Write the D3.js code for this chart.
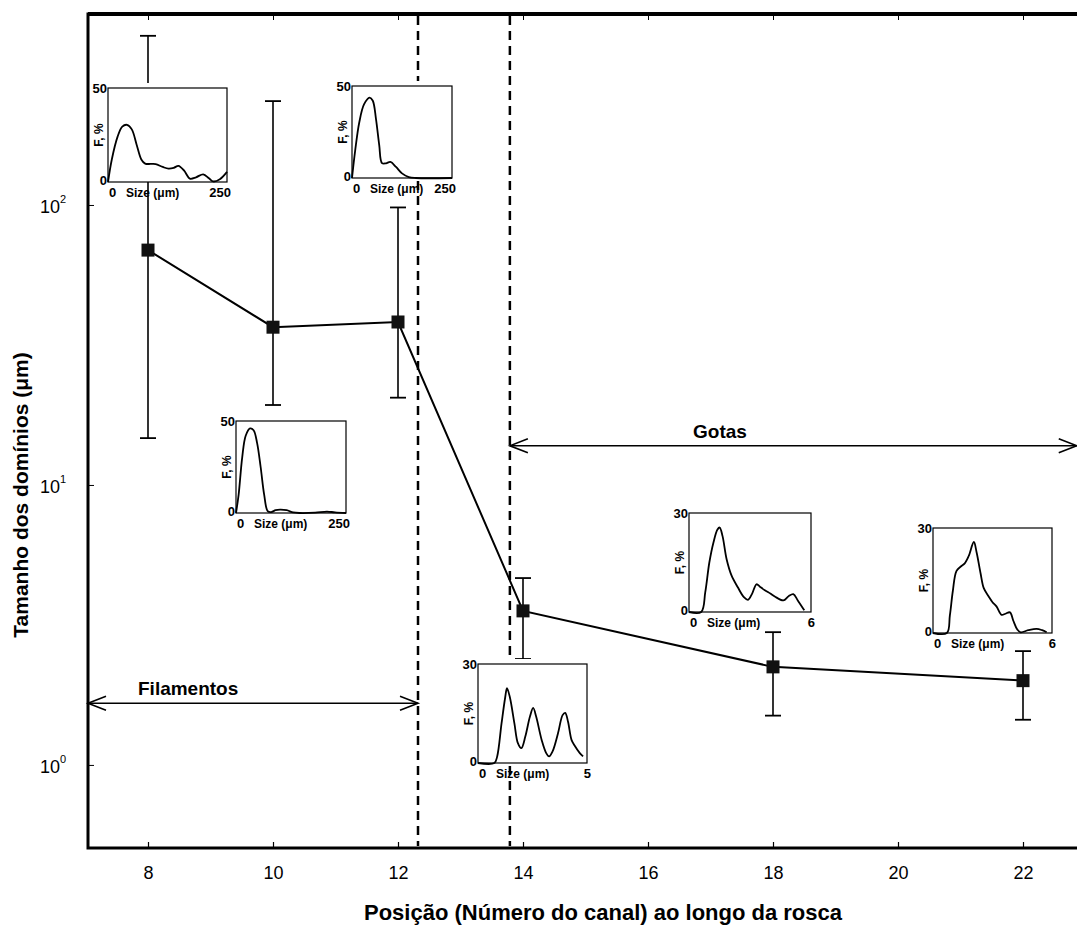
<!DOCTYPE html>
<html>
<head>
<meta charset="utf-8">
<script src="https://cdn.jsdelivr.net/npm/d3@7"></script>
<style>
  body { margin: 0; background: #fff; }
  text { font-family: "Liberation Sans", Arial, sans-serif; fill: #000; }
</style>
</head>
<body>
<div id="chart"></div>
<script>
// ---- data ----
var xTicks = [8, 10, 12, 14, 16, 18, 20, 22];
var yTicks = [1, 10, 100];
var positions = [8, 10, 12, 14, 18, 22];          // channel number
var sizes = [69, 36.6, 38.2, 3.55, 2.24, 2.0];    // domain size, um
var upper = [402, 235, 98, 4.65, 2.98, 2.55];
var lower = [14.7, 19.3, 20.5, 2.39, 1.50, 1.45];
var boundaries = [12.32, 13.79];                  // dashed lines
var filamentos = {from: 7.04, to: 12.32, at: 1.66};
var gotas = {from: 13.79, to: 22.86, at: 13.8};

// size distributions in the insets: [size, F %]
var dist8 = [[0,0],[8,12],[20,24],[30,29.5],[40,30.4],[50,28],[60,20],[70,12],[78,9.8],[90,9.6],[100,9.5],[115,8],[127,7.1],[138,7.5],[148,8.6],[160,6],[172,1.8],[185,2.5],[200,4.1],[212,2],[221,0.3],[235,1.5],[250,5.4]];
var dist10 = [[0,0],[6,10],[14,30],[22,42],[32,46],[40,45],[48,38],[56,25],[64,10],[72,1],[80,0.5],[90,1.5],[100,1.8],[115,1.5],[130,0.3],[145,0],[180,0.2],[207,0.8],[225,0.3],[250,0]];
var dist12 = [[0,0],[8,15],[18,30],[30,40],[44,43.7],[52,42],[60,32],[68,18],[75,8.1],[85,8],[96,8.7],[110,6],[125,2.5],[142,0.5],[160,0],[250,0]];
var dist14 = [[0,0],[0.75,0],[0.88,2],[1.08,12],[1.25,20],[1.33,22.7],[1.46,20],[1.67,12],[1.83,6],[1.99,4.5],[2.17,8],[2.38,14],[2.53,16.7],[2.67,14],[2.92,7],[3.13,3],[3.26,2],[3.42,3.5],[3.67,9],[3.88,14.5],[4.0,15.2],[4.13,12.5],[4.29,7],[4.43,5.3],[4.67,3],[4.82,2]];
var dist18 = [[0,0],[0.6,0],[0.8,6],[1.0,15],[1.2,21],[1.4,25],[1.51,25.6],[1.65,23],[1.85,16],[2.09,11.1],[2.4,7.5],[2.7,4.5],[2.9,3.7],[3.1,5.5],[3.32,8.4],[3.5,7.6],[3.73,6.6],[4.0,5.6],[4.22,4.7],[4.64,3.5],[4.9,4.8],[5.13,5.4],[5.35,3.5],[5.67,0.5]];
var dist22 = [[0,0],[0.7,0],[0.85,5],[1.0,12],[1.18,17.7],[1.4,19],[1.6,19.9],[1.8,22],[2.06,26],[2.2,23],[2.4,17],[2.56,12.8],[2.8,10.5],[3.0,8.8],[3.2,7.6],[3.46,5.2],[3.65,5.5],[3.88,5.9],[4.05,3.5],[4.25,1],[4.42,0.2],[4.8,0.8],[5.22,1.2],[5.5,0.8],[5.73,0.2]];

var insets = [
  {box: [108, 88, 227, 182], xMax: 250, yMax: 50, data: dist8},
  {box: [352, 86, 452, 178], xMax: 250, yMax: 50, data: dist12},
  {box: [236, 421, 346, 513], xMax: 250, yMax: 50, data: dist10},
  {box: [478, 664, 587, 763], xMax: 5, yMax: 30, data: dist14},
  {box: [689, 513, 811, 612], xMax: 6, yMax: 30, data: dist18},
  {box: [933, 528, 1052, 633], xMax: 6, yMax: 30, data: dist22}
];

// ---- layout ----
var W = 1077, H = 927;
var svg = d3.select('#chart').append('svg').attr('width', W).attr('height', H);
svg.append('rect').attr('width', W).attr('height', H).attr('fill', '#fff');

var x = d3.scaleLinear().domain([7.04, 23]).range([88, 1085.5]);
var y = d3.scaleLog().domain([0.505, 481]).range([848, 14]);

var plot = svg.append('g');

// frame (right side falls outside the picture)
plot.append('rect').attr('x', 88).attr('y', 14).attr('width', 1100).attr('height', 834)
  .attr('fill', 'none').attr('stroke', '#000').attr('stroke-width', 3);
plot.append('line').attr('x1', 88).attr('x2', W).attr('y1', 14).attr('y2', 14)
  .attr('stroke', '#000').attr('stroke-width', 4);

// x ticks, inward on bottom and top
var xb = plot.append('g').attr('transform', 'translate(0,848)')
  .call(d3.axisBottom(x).tickValues(xTicks).tickSizeInner(-6).tickSizeOuter(0).tickPadding(18));
xb.select('.domain').remove();
xb.selectAll('.tick line').attr('stroke-width', 1.2);
xb.selectAll('.tick text').attr('font-size', 18).attr('font-family', '"Liberation Sans", Arial, sans-serif');
var xt = plot.append('g').attr('transform', 'translate(0,14)')
  .call(d3.axisTop(x).tickValues(xTicks).tickSizeInner(-6).tickSizeOuter(0).tickFormat(''));
xt.select('.domain').remove();

// y ticks with 10^n labels
var yl = plot.append('g').attr('transform', 'translate(88,0)')
  .call(d3.axisLeft(y).tickValues(yTicks).tickSizeInner(-6).tickSizeOuter(0).tickFormat(''));
yl.select('.domain').remove();
var ylab = plot.selectAll('.ylab').data(yTicks).enter().append('text')
  .attr('class', 'ylab').attr('x', 40).attr('y', function(d){ return y(d) + 8; })
  .attr('font-size', 18);
ylab.append('tspan').text('10');
ylab.append('tspan').attr('font-size', 11).attr('dy', -10).text(function(d){ return Math.round(Math.log10(d)); });

// dashed boundaries
plot.selectAll('.bound').data(boundaries).enter().append('line')
  .attr('x1', function(d){ return x(d); }).attr('x2', function(d){ return x(d); })
  .attr('y1', 16).attr('y2', 846)
  .attr('stroke', '#000').attr('stroke-width', 2.5).attr('stroke-dasharray', '9,6');

// regime arrows
function arrow(r, label, lx, anchor) {
  var g = plot.append('g');
  var x1 = x(r.from), x2 = x(r.to), yy = y(r.at);
  g.append('line').attr('x1', x1).attr('x2', x2).attr('y1', yy).attr('y2', yy)
    .attr('stroke', '#000').attr('stroke-width', 1.6);
  g.append('path').attr('d', 'M' + (x1 + 18) + ',' + (yy - 7) + 'L' + x1 + ',' + yy + 'L' + (x1 + 18) + ',' + (yy + 7))
    .attr('fill', 'none').attr('stroke', '#000').attr('stroke-width', 1.6);
  g.append('path').attr('d', 'M' + (x2 - 18) + ',' + (yy - 7) + 'L' + x2 + ',' + yy + 'L' + (x2 - 18) + ',' + (yy + 7))
    .attr('fill', 'none').attr('stroke', '#000').attr('stroke-width', 1.6);
  g.append('text').attr('x', lx).attr('y', yy - 8).attr('text-anchor', anchor)
    .attr('font-size', 19).attr('font-weight', 'bold').text(label);
}
arrow(filamentos, 'Filamentos', 138, 'start');
arrow(gotas, 'Gotas', 720, 'middle');

// error bars
var eb = plot.selectAll('.err').data(positions).enter().append('g');
eb.append('line').attr('x1', function(d){ return x(d); }).attr('x2', function(d){ return x(d); })
  .attr('y1', function(d, i){ return y(upper[i]); }).attr('y2', function(d, i){ return y(lower[i]); })
  .attr('stroke', '#000').attr('stroke-width', 1.6);
[upper, lower].forEach(function(arr){
  eb.append('line').attr('x1', function(d){ return x(d) - 8; }).attr('x2', function(d){ return x(d) + 8; })
    .attr('y1', function(d, i){ return y(arr[i]); }).attr('y2', function(d, i){ return y(arr[i]); })
    .attr('stroke', '#000').attr('stroke-width', 1.8);
});

// main line and square markers
var pts = positions.map(function(p, i){ return [p, sizes[i]]; });
plot.append('path').datum(pts)
  .attr('d', d3.line().x(function(d){ return x(d[0]); }).y(function(d){ return y(d[1]); }))
  .attr('fill', 'none').attr('stroke', '#000').attr('stroke-width', 2);
plot.selectAll('.mk').data(pts).enter().append('rect')
  .attr('x', function(d){ return x(d[0]) - 6.5; }).attr('y', function(d){ return y(d[1]) - 6.5; })
  .attr('width', 13).attr('height', 13).attr('fill', '#111');

// axis titles
svg.append('text').attr('x', 603).attr('y', 920).attr('text-anchor', 'middle')
  .attr('font-size', 22).attr('font-weight', 'bold').text('Posição (Número do canal) ao longo da rosca');
svg.append('text').attr('transform', 'translate(28,495) rotate(-90)').attr('text-anchor', 'middle')
  .attr('font-size', 21).attr('font-weight', 'bold').text('Tamanho dos domínios (μm)');

// insets with the size distributions
insets.forEach(function(ins){
  var b = ins.box;
  var g = svg.append('g');
  var ix = d3.scaleLinear().domain([0, ins.xMax]).range([b[0], b[2]]);
  var iy = d3.scaleLinear().domain([0, ins.yMax]).range([b[3], b[1]]);
  g.append('rect').attr('x', b[0]).attr('y', b[1] - 5).attr('width', b[2] - b[0]).attr('height', b[3] - b[1] + 5)
    .attr('fill', '#fff');
  g.append('rect').attr('x', b[0]).attr('y', b[1]).attr('width', b[2] - b[0]).attr('height', b[3] - b[1])
    .attr('fill', 'none').attr('stroke', '#000').attr('stroke-width', 1.2);
  g.append('path').datum(ins.data)
    .attr('d', d3.line().curve(d3.curveCatmullRom).x(function(d){ return ix(d[0]); }).y(function(d){ return iy(d[1]); }))
    .attr('fill', 'none').attr('stroke', '#000').attr('stroke-width', 1.8);
  g.append('text').attr('x', b[0] - 1).attr('y', b[1] + 5).attr('text-anchor', 'end').attr('font-size', 13).attr('font-weight', 'bold').text(ins.yMax);
  g.append('text').attr('x', b[0] - 1).attr('y', b[3] + 3).attr('text-anchor', 'end').attr('font-size', 13).attr('font-weight', 'bold').text(0);
  g.append('text').attr('x', b[0] + 1).attr('y', b[3] + 15).attr('font-size', 13).attr('font-weight', 'bold').text(0);
  g.append('text').attr('x', b[2] + 4).attr('y', b[3] + 15).attr('text-anchor', 'end').attr('font-size', 13).attr('font-weight', 'bold').text(ins.xMax);
  g.append('text').attr('x', b[0] + 18).attr('y', b[3] + 15).attr('font-size', 12).attr('font-weight', 'bold').text('Size (μm)');
  g.append('text').attr('transform', 'translate(' + (b[0] - 5) + ',' + ((b[1] + b[3]) / 2) + ') rotate(-90)')
    .attr('text-anchor', 'middle').attr('font-size', 12).attr('font-weight', 'bold').text('F, %');
});
</script>
</body>
</html>
